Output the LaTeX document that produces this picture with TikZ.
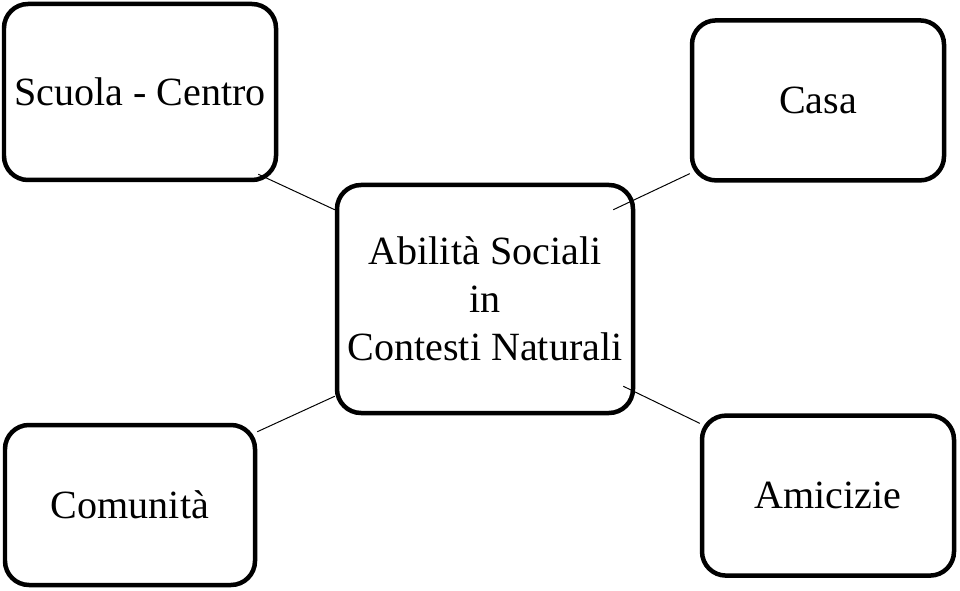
\documentclass[tikz,border=0pt]{standalone}
\usepackage{fontspec}
\setmainfont{Liberation Serif}
\tikzset{
  box/.style={draw,line width=3.2pt,rounded corners=0.6cm,align=center,
    font=\fontsize{28.5}{34.1}\selectfont},
  link/.style={line width=0.7pt}
}
\begin{document}
\begin{tikzpicture}
  \useasboundingbox (0,0) rectangle (24,14.75);
  \node[box,minimum width=6.8cm,minimum height=4.4cm] (scuola) at (3.5,12.45) {Scuola - Centro};
  \node[box,minimum width=6.3cm,minimum height=4.0cm] (casa) at (20.45,12.24) {Casa};
  \node[box,minimum width=7.4cm,minimum height=5.7cm] (centro) at (12.125,7.275)
    {Abilità Sociali\\in\\Contesti Naturali};
  \node[box,minimum width=6.25cm,minimum height=4.0cm] (comunita) at (3.25,2.125) {Comunità};
  \node[box,minimum width=6.3cm,minimum height=4.0cm] (amicizie) at (20.7,2.36) {Amicizie};
  \draw[link] ([shift={(-0.5,0.2)}]scuola.south east) -- ([shift={(0,-0.675)}]centro.north west);
  \draw[link] ([shift={(-0.55,-0.675)}]centro.north east) -- ([shift={(0,0.225)}]casa.south west);
  \draw[link] ([shift={(0,-0.225)}]comunita.north east) -- ([shift={(0,0.475)}]centro.south west);
  \draw[link] ([shift={(-0.3,0.725)}]centro.south east) -- ([shift={(0,-0.25)}]amicizie.north west);
\end{tikzpicture}
\end{document}
